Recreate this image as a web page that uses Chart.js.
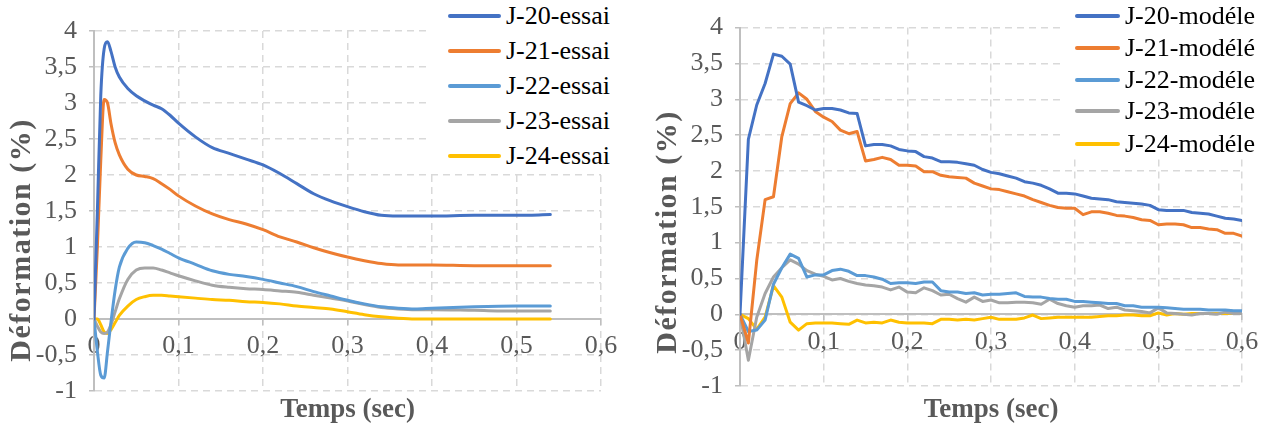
<!DOCTYPE html>
<html>
<head>
<meta charset="utf-8">
<script src="https://cdn.jsdelivr.net/npm/chart.js@4/dist/chart.umd.min.js"></script>
<style>
html,body{margin:0;padding:0;background:#fff;width:1269px;height:431px;overflow:hidden;}
.wrap{position:absolute;top:0;height:431px;}
#w1{left:0;width:630px;}
#w2{left:630px;width:639px;}
canvas{display:block;}
.legend{position:absolute;background:#fff;font-family:'Liberation Serif','Times New Roman',serif;font-size:26px;color:#000;}
.legend .item{position:absolute;left:0;height:30px;line-height:30px;white-space:nowrap;}
.legend .swatch{position:absolute;height:4px;border-radius:2px;top:13px;}
.legend .label{position:absolute;top:0;}
</style>
</head>
<body>
<div class="wrap" id="w1"><canvas id="c1" width="630" height="431"></canvas></div>
<div class="wrap" id="w2"><canvas id="c2" width="639" height="431"></canvas></div>
<div class="legend" id="leg1" style="left:430px;top:0;width:200px;height:174px;"></div>
<div class="legend" id="leg2" style="left:1065px;top:0;width:204px;height:158px;"></div>
<script>
// ---------- DATA : left chart (essai) ----------
const essaiNames = ['J-20-essai','J-21-essai','J-22-essai','J-23-essai','J-24-essai'];
const essaiT   = [0,0.004,0.008,0.012,0.016,0.02,0.025,0.03,0.04,0.05,0.06,0.07,0.08,0.09,0.1,0.12,0.14,0.16,0.18,0.2,0.22,0.24,0.26,0.28,0.3,0.32,0.34,0.36,0.38,0.4,0.45,0.5,0.54];
const essaiJ20 = [0,1.5,3.1,3.75,3.85,3.72,3.5,3.36,3.2,3.1,3.03,2.97,2.92,2.83,2.72,2.53,2.38,2.3,2.22,2.14,2.02,1.88,1.74,1.64,1.56,1.49,1.44,1.43,1.43,1.43,1.44,1.44,1.45];
const essaiJ21 = [0,1.0,2.2,3.05,3.0,2.72,2.45,2.28,2.08,2.0,1.98,1.95,1.88,1.8,1.71,1.57,1.46,1.38,1.32,1.24,1.14,1.07,0.99,0.92,0.86,0.81,0.77,0.75,0.75,0.75,0.74,0.74,0.74];
const essaiJ22 = [0,-0.45,-0.78,-0.82,-0.45,-0.05,0.4,0.72,0.98,1.07,1.06,1.02,0.97,0.91,0.85,0.76,0.67,0.62,0.59,0.55,0.5,0.45,0.38,0.32,0.26,0.21,0.17,0.15,0.14,0.15,0.17,0.18,0.18];
const essaiJ23 = [0,-0.1,-0.18,-0.2,-0.18,-0.08,0.1,0.28,0.55,0.68,0.71,0.71,0.68,0.64,0.6,0.53,0.47,0.44,0.42,0.41,0.39,0.37,0.33,0.29,0.25,0.2,0.16,0.14,0.13,0.13,0.12,0.11,0.11];
const essaiJ24 = [0,0,-0.08,-0.18,-0.2,-0.15,-0.05,0.05,0.18,0.27,0.31,0.33,0.33,0.32,0.31,0.29,0.27,0.26,0.24,0.23,0.21,0.18,0.16,0.14,0.1,0.06,0.03,0.01,0,0,0,0,0];

// ---------- DATA : right chart (modèle) ----------
const modeleNames = ['J-20-modéle','J-21-modélé','J-22-modéle','J-23-modéle','J-24-modéle'];
const modeleT = [0,0.01,0.02,0.03,0.04,0.05,0.06,0.07,0.08,0.09,0.1,0.11,0.12,0.13,0.14,0.15,0.16,0.17,0.18,0.19,0.2,0.21,0.22,0.23,0.24,0.25,0.26,0.27,0.28,0.29,0.3,0.31,0.32,0.33,0.34,0.35,0.36,0.37,0.38,0.39,0.4,0.41,0.42,0.43,0.44,0.45,0.46,0.47,0.48,0.49,0.5,0.51,0.52,0.53,0.54,0.55,0.56,0.57,0.58,0.59,0.6];
const modeleJ20 = [0,2.44,2.92,3.22,3.63,3.6,3.49,2.96,2.91,2.85,2.87,2.87,2.85,2.81,2.8,2.35,2.37,2.37,2.35,2.3,2.28,2.27,2.2,2.18,2.13,2.13,2.12,2.1,2.08,2.02,1.98,1.96,1.93,1.9,1.85,1.83,1.8,1.75,1.69,1.69,1.68,1.65,1.62,1.61,1.6,1.57,1.56,1.55,1.54,1.52,1.46,1.45,1.45,1.45,1.42,1.41,1.4,1.37,1.34,1.33,1.31];
const modeleJ21 = [0,-0.4,0.75,1.6,1.64,2.48,2.94,3.09,3.0,2.83,2.75,2.69,2.57,2.52,2.55,2.14,2.16,2.19,2.16,2.08,2.08,2.07,1.99,1.99,1.94,1.92,1.91,1.9,1.83,1.79,1.75,1.74,1.71,1.68,1.65,1.6,1.56,1.52,1.49,1.48,1.48,1.39,1.43,1.43,1.41,1.38,1.37,1.35,1.32,1.31,1.25,1.26,1.26,1.25,1.21,1.21,1.19,1.18,1.13,1.13,1.09];
const modeleJ22 = [0,-0.24,-0.22,-0.08,0.42,0.65,0.84,0.78,0.52,0.55,0.55,0.61,0.63,0.6,0.54,0.54,0.52,0.49,0.43,0.44,0.44,0.43,0.45,0.45,0.33,0.31,0.31,0.29,0.3,0.27,0.28,0.28,0.29,0.3,0.25,0.24,0.24,0.22,0.21,0.21,0.18,0.18,0.17,0.16,0.15,0.15,0.12,0.12,0.1,0.1,0.1,0.09,0.08,0.07,0.07,0.07,0.06,0.06,0.06,0.05,0.05];
const modeleJ23 = [0,-0.64,-0.04,0.29,0.52,0.65,0.76,0.7,0.61,0.56,0.53,0.48,0.5,0.46,0.43,0.41,0.4,0.38,0.34,0.38,0.31,0.3,0.37,0.33,0.27,0.28,0.22,0.17,0.24,0.18,0.2,0.16,0.16,0.17,0.17,0.16,0.14,0.21,0.15,0.12,0.1,0.12,0.12,0.13,0.08,0.1,0.06,0.05,0.04,0.02,0.09,0.02,0.01,0,-0.01,0.01,0.01,0,0.03,0.01,0.01];
const modeleJ24 = [0,-0.06,-0.21,-0.04,0.4,0.24,-0.11,-0.22,-0.13,-0.12,-0.12,-0.12,-0.13,-0.14,-0.08,-0.12,-0.11,-0.12,-0.08,-0.11,-0.12,-0.12,-0.12,-0.13,-0.07,-0.07,-0.08,-0.07,-0.08,-0.06,-0.04,-0.07,-0.07,-0.07,-0.05,-0.01,-0.06,-0.05,-0.04,-0.04,-0.04,-0.04,-0.04,-0.03,-0.02,-0.02,-0.01,-0.01,-0.02,-0.02,0.02,-0.01,0.01,0,0.01,0.01,0.01,0.01,0.01,0.01,0.01];

// ---------- axis settings ----------
const xMin = 0, xMax = 0.6, xStep = 0.1;
const yMin = -1, yMax = 4, yStep = 0.5;
const seriesColors = ['#4472C4','#ED7D31','#5B9BD5','#A5A5A5','#FFC000'];

const FONT = "'Liberation Serif','Times New Roman',serif";
const GRAY_TXT = '#595959';
const fmt = v => (Math.round(v*10)/10).toString().replace('.', ',');

function pairs(t, v){ return t.map((x,i)=>({x:x, y:v[i]})); }

const yTitlePlugin = {
  id:'yTitle',
  afterDraw(chart, args, o){
    if(!o || !o.text) return;
    const ctx = chart.ctx;
    ctx.save();
    ctx.translate(o.x, o.y);
    ctx.rotate(-Math.PI/2);
    ctx.font = 'bold ' + o.size + "px 'Liberation Serif','Times New Roman',serif";
    ctx.fillStyle = GRAY_TXT;
    ctx.textAlign = 'center';
    ctx.textBaseline = 'middle';
    if ('letterSpacing' in ctx) ctx.letterSpacing = o.spacing + 'px';
    ctx.fillText(o.text, 0, 0);
    ctx.restore();
  }
};

function makeChart(canvasId, names, t, series, smooth, area, titleBottomH, yTitle){
  const datasets = series.map((s,i)=>({
    label: names[i],
    data: pairs(t, s),
    borderColor: seriesColors[i],
    backgroundColor: seriesColors[i],
    borderWidth: 3,
    pointRadius: 0,
    pointHoverRadius: 0,
    fill: false,
    borderCapStyle: 'round',
    borderJoinStyle: 'round',
    cubicInterpolationMode: smooth ? 'monotone' : 'default',
    tension: 0
  }));
  const gridCommon = {color:'#D9D9D9', lineWidth:1.5, drawTicks:true, tickLength:5, tickColor:'#BFBFBF', tickWidth:1.5};
  const borderCommon = {display:true, color:'#BFBFBF', width:2, dash:[7,5]};
  return new Chart(document.getElementById(canvasId), {
    type:'line',
    data:{datasets},
    options:{
      responsive:false,
      animation:false,
      devicePixelRatio:1,
      layout:{padding:{top:area.top, right:area.right, left:0, bottom:0}},
      plugins:{legend:{display:false}, tooltip:{enabled:false}, yTitle:yTitle},
      scales:{
        x:{
          type:'linear', min:xMin, max:xMax, position:{y:0},
          ticks:{stepSize:xStep, color:GRAY_TXT, font:{family:FONT, size:26}, padding:7, maxRotation:0, autoSkip:false, callback:fmt},
          grid:gridCommon, border:borderCommon
        },
        xt:{
          type:'linear', min:xMin, max:xMax, position:'bottom',
          grid:{display:false, drawTicks:false}, border:{display:false},
          ticks:{display:false},
          title:{display:true, text:'Temps (sec)', color:GRAY_TXT, font:{family:FONT, size:27, weight:'bold'}, padding:{top:0, bottom:5}},
          afterFit:s=>{ s.height = titleBottomH; }
        },
        y:{
          type:'linear', min:yMin, max:yMax, position:'left',
          ticks:{stepSize:yStep, color:GRAY_TXT, font:{family:FONT, size:26}, padding:12, callback:fmt},
          grid:gridCommon, border:borderCommon,
          afterFit:s=>{ s.width = area.left; }
        }
      }
    },
    plugins:[yTitlePlugin]
  });
}

makeChart('c1', essaiNames, essaiT, [essaiJ20,essaiJ21,essaiJ22,essaiJ23,essaiJ24], true,
  {left:94, top:31, right:29}, 40, {text:'Déformation (%)', x:22, y:240, size:30, spacing:1.5});
makeChart('c2', modeleNames, modeleT, [modeleJ20,modeleJ21,modeleJ22,modeleJ23,modeleJ24], false,
  {left:110, top:25, right:27}, 45, {text:'Déformation (%)', x:38, y:232, size:30, spacing:1.5});

// ---------- HTML legends ----------
function buildLegend(id, names, rows, lineLeft, lineW, textLeft){
  const el = document.getElementById(id);
  names.forEach((n,i)=>{
    const it = document.createElement('div');
    it.className = 'item';
    it.style.top = (rows[i]-15) + 'px';
    const sw = document.createElement('span');
    sw.className = 'swatch';
    sw.style.left = lineLeft + 'px';
    sw.style.width = lineW + 'px';
    sw.style.background = seriesColors[i];
    const lb = document.createElement('span');
    lb.className = 'label';
    lb.style.left = textLeft + 'px';
    lb.textContent = n;
    it.appendChild(sw); it.appendChild(lb);
    el.appendChild(it);
  });
}
buildLegend('leg1', essaiNames, [16,51,86,121,156], 18, 53, 76);
buildLegend('leg2', modeleNames, [16,48,80,111,144], 10, 45, 60);
</script>
</body>
</html>
